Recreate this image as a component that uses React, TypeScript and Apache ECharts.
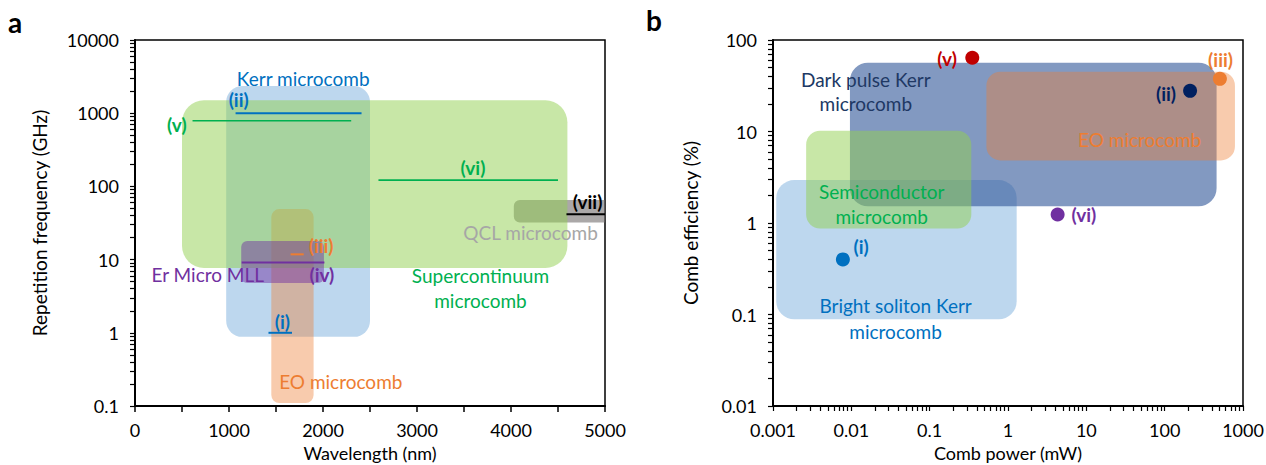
import React, { useEffect, useRef } from 'react';
import * as echarts from 'echarts';

const FONT = 'Lato, "Open Sans", sans-serif';

// ---------- Panel a data ----------
const wavelengthTicks = [0, 1000, 2000, 3000, 4000, 5000];
const repRateTicks = [0.1, 1, 10, 100, 1000, 10000];

// drawn in this order (back to front)
const aRegionNames = ['Kerr microcomb', 'EO microcomb', 'QCL microcomb', 'Supercontinuum microcomb', 'Er Micro MLL'];
const aRegionWavelength = [[970, 2500], [1450, 1900], [4030, 5000], [500, 4600], [1130, 2010]];
const aRegionRepRate = [[0.88, 2350], [0.11, 49], [32, 65], [7.7, 1500], [4.8, 18]];

const aLineNames = ['(i)', '(ii)', '(iii)', '(iv)', '(v)', '(vi)', '(vii)'];
const aLineWavelength = [[1420, 1670], [1070, 2410], [1655, 1795], [1135, 2015], [612, 2300], [2590, 4500], [4590, 5000]];
const aLineRepRate = [1.0, 1000, 11.8, 9.1, 790, 122, 41.6];

const aLabelTexts = ['Kerr microcomb', '(ii)', '(v)', '(vi)', '(vii)', 'QCL microcomb', '(iii)', 'Er Micro MLL', '(iv)', 'Supercontinuum', 'microcomb', '(i)', 'EO microcomb'];
const aLabelWavelength = [1789, 1103, 445, 3595, 4814, 4208, 1980, 774, 1988, 3675, 3675, 1567, 2189];
const aLabelRepRate = [3000, 1549, 711, 184, 61.8, 23.3, 15.4, 6.17, 6.17, 5.97, 2.72, 1.42, 0.215];

// ---------- Panel b data ----------
const powerTicks = [0.001, 0.01, 0.1, 1, 10, 100, 1000];
const efficiencyTicks = [0.01, 0.1, 1, 10, 100];

const bRegionNames = ['Bright soliton Kerr microcomb', 'Dark pulse Kerr microcomb', 'Semiconductor microcomb', 'EO microcomb'];
const bRegionPower = [[0.0011, 1.29], [0.0096, 460], [0.00265, 0.34], [0.53, 789]];
const bRegionEfficiency = [[0.0885, 2.95], [1.52, 56.5], [0.87, 10.2], [4.83, 45]];

const bPointNames = ['(i)', '(ii)', '(iii)', '(v)', '(vi)'];
const bPointPower = [0.0078, 211, 507, 0.35, 4.3];
const bPointEfficiency = [0.4, 27.8, 37.6, 64, 1.24];

const bLabelTexts = ['Dark pulse Kerr', 'microcomb', '(v)', '(iii)', '(ii)', 'EO microcomb', 'Semiconductor', 'microcomb', '(vi)', '(i)', 'Bright soliton Kerr', 'microcomb'];
const bLabelPower = [0.0153, 0.0153, 0.167, 517, 104, 47.9, 0.0244, 0.0244, 9.3, 0.0133, 0.0367, 0.0367];
const bLabelEfficiency = [36.6, 20.4, 63, 60.5, 26.2, 8.26, 2.22, 1.18, 1.24, 0.548, 0.1256, 0.0659];

// ---------- styles ----------
const BLUE = '#0070c0';
const GREEN = '#00b050';
const ORANGE = '#ed7d31';
const PURPLE = '#7030a0';
const GRAY = '#a6a6a6';
const NAVY = '#203864';

const aRegionFill = ['rgba(91,155,213,0.4)', 'rgba(237,125,49,0.4)', 'rgba(115,110,110,0.6)', 'rgba(146,208,80,0.5)', 'rgba(112,48,160,0.48)'];
const aRegionRadius: any[] = [16, 8, [6, 0, 0, 6], 22, 6];
const aLineColors = [BLUE, BLUE, ORANGE, PURPLE, GREEN, GREEN, '#000000'];
const aLineWidths = [2, 2, 2, 2, 1.6, 1.6, 2];
const aLabelColors = [BLUE, BLUE, GREEN, GREEN, '#000000', GRAY, ORANGE, PURPLE, PURPLE, GREEN, GREEN, BLUE, ORANGE];

const bRegionFill = ['rgba(91,155,213,0.4)', 'rgba(47,85,151,0.6)', 'rgba(146,208,80,0.5)', 'rgba(237,125,49,0.4)'];
const bRegionRadius = [18, 18, 14, 14];
const bPointColors = [BLUE, '#002060', ORANGE, '#c00000', PURPLE];
const bLabelColors = [NAVY, NAVY, '#c00000', ORANGE, '#002060', ORANGE, GREEN, GREEN, PURPLE, BLUE, BLUE, BLUE];

const isBold = (t: string) => t.startsWith('(');

function logMinorTicks(lo: number, hi: number): number[] {
  const out: number[] = [];
  for (let e = Math.round(Math.log10(lo)); e < Math.round(Math.log10(hi)); e++) {
    for (let m = 1; m <= 9; m++) out.push(Number((m * Math.pow(10, e)).toPrecision(6)));
  }
  out.push(hi);
  return out;
}

const fmtNum = (v: number) => String(Number(Number(v).toPrecision(6)));

export default function App() {
  const ref = useRef<HTMLDivElement>(null);
  useEffect(() => {
    document.body.style.margin = '0';
    const chart = echarts.init(ref.current!, null, { renderer: 'svg' });

    const axisLine = { show: true, onZero: false, lineStyle: { color: '#000', width: 2 } };
    const labelStyle = { color: '#000', fontSize: 18, fontFamily: FONT };
    const nameStyle = { color: '#000', fontSize: 19, fontFamily: FONT };
    const xNameStyle = { color: '#000', fontSize: 18, fontFamily: FONT };

    const rectSeries = (names: string[], xs: number[][], ys: number[][], fills: string[], radii: any[], gi: number) => ({
      type: 'custom',
      xAxisIndex: gi,
      yAxisIndex: gi,
      z: 1,
      silent: true,
      clip: true,
      encode: { x: [0, 1], y: [2, 3] },
      data: names.map((n, i) => ({ name: n, value: [xs[i][0], xs[i][1], ys[i][0], ys[i][1]] })),
      renderItem: (params: any, api: any) => {
        const tl = api.coord([api.value(0), api.value(3)]);
        const br = api.coord([api.value(1), api.value(2)]);
        return {
          type: 'rect',
          shape: { x: tl[0], y: tl[1], width: br[0] - tl[0], height: br[1] - tl[1], r: radii[params.dataIndex] },
          style: { fill: fills[params.dataIndex] },
        };
      },
    });

    const textSeries = (texts: string[], xs: number[], ys: number[], colors: string[], gi: number) => ({
      type: 'custom',
      xAxisIndex: gi,
      yAxisIndex: gi,
      z: 6,
      silent: true,
      clip: false,
      data: texts.map((t, i) => [xs[i], ys[i]]),
      renderItem: (params: any, api: any) => {
        const p = api.coord([api.value(0), api.value(1)]);
        const t = texts[params.dataIndex];
        return {
          type: 'text',
          x: p[0],
          y: p[1],
          style: {
            text: t,
            fill: colors[params.dataIndex],
            fontSize: 19,
            fontFamily: FONT,
            fontWeight: isBold(t) ? 'bold' : 'normal',
            align: 'center',
            verticalAlign: 'middle',
          },
        };
      },
    });

    const lineSeries = aLineNames.map((n, i) => ({
      type: 'line',
      name: n,
      xAxisIndex: 0,
      yAxisIndex: 0,
      z: 3,
      silent: true,
      showSymbol: false,
      symbol: 'none',
      lineStyle: { color: aLineColors[i], width: aLineWidths[i] },
      data: [[aLineWavelength[i][0], aLineRepRate[i]], [aLineWavelength[i][1], aLineRepRate[i]]],
    }));

    const gridBase = { top: 40, width: 470, height: 366, show: true, borderColor: '#000', borderWidth: 1.5, containLabel: false, outerBoundsMode: 'none' };

    const option: any = {
      animation: false,
      textStyle: { fontFamily: FONT },
      grid: [
        { ...gridBase, left: 135 },
        { ...gridBase, left: 773 },
      ],
      xAxis: [
        {
          gridIndex: 0,
          type: 'value',
          min: 0,
          max: 5000,
          interval: 500,
          axisLine,
          axisTick: { show: true, length: 6, lineStyle: { color: '#000', width: 1.5 } },
          axisLabel: {
            ...labelStyle,
            margin: 15,
            formatter: (v: number) => (wavelengthTicks.includes(v) ? String(v) : ''),
          },
          splitLine: { show: false },
          name: 'Wavelength (nm)',
          nameLocation: 'middle',
          nameGap: 35,
          nameTextStyle: xNameStyle,
        },
        {
          gridIndex: 1,
          type: 'log',
          logBase: 10,
          min: 0.001,
          max: 1000,
          axisLine,
          axisTick: { show: true, length: 5, customValues: logMinorTicks(0.001, 1000), lineStyle: { color: '#000', width: 1.2 } },
          axisLabel: { ...labelStyle, margin: 15, customValues: powerTicks, formatter: fmtNum },
          splitLine: { show: false },
          minorTick: { show: false },
          name: 'Comb power (mW)',
          nameLocation: 'middle',
          nameGap: 35,
          nameTextStyle: xNameStyle,
        },
      ],
      yAxis: [
        {
          gridIndex: 0,
          type: 'log',
          logBase: 10,
          min: 0.1,
          max: 10000,
          axisLine,
          axisTick: { show: true, length: 5, customValues: logMinorTicks(0.1, 10000), lineStyle: { color: '#000', width: 1.2 } },
          axisLabel: { ...labelStyle, margin: 16, customValues: repRateTicks, formatter: fmtNum },
          splitLine: { show: false },
          name: 'Repetition frequency (GHz)',
          nameLocation: 'middle',
          nameGap: 86,
          nameTextStyle: nameStyle,
        },
        {
          gridIndex: 1,
          type: 'log',
          logBase: 10,
          min: 0.01,
          max: 100,
          axisLine,
          axisTick: { show: true, length: 5, customValues: logMinorTicks(0.01, 100), lineStyle: { color: '#000', width: 1.2 } },
          axisLabel: { ...labelStyle, margin: 16, customValues: efficiencyTicks, formatter: fmtNum },
          splitLine: { show: false },
          name: 'Comb efficiency (%)',
          nameLocation: 'middle',
          nameGap: 73,
          nameTextStyle: nameStyle,
        },
      ],
      graphic: [
        { type: 'text', left: 8, top: 8, style: { text: 'a', fontSize: 28, fontWeight: 'bold', fontFamily: FONT, fill: '#000' } },
        { type: 'text', left: 646, top: 6, style: { text: 'b', fontSize: 28, fontWeight: 'bold', fontFamily: FONT, fill: '#000' } },
      ],
      series: [
        rectSeries(aRegionNames, aRegionWavelength, aRegionRepRate, aRegionFill, aRegionRadius, 0),
        ...lineSeries,
        textSeries(aLabelTexts, aLabelWavelength, aLabelRepRate, aLabelColors, 0),
        rectSeries(bRegionNames, bRegionPower, bRegionEfficiency, bRegionFill, bRegionRadius, 1),
        {
          type: 'scatter',
          xAxisIndex: 1,
          yAxisIndex: 1,
          z: 4,
          silent: true,
          symbolSize: 14,
          itemStyle: { color: (p: any) => bPointColors[p.dataIndex], opacity: 1 },
          data: bPointNames.map((n, i) => ({ name: n, value: [bPointPower[i], bPointEfficiency[i]] })),
        },
        textSeries(bLabelTexts, bLabelPower, bLabelEfficiency, bLabelColors, 1),
      ],
    };

    chart.setOption(option);
    return () => chart.dispose();
  }, []);
  return <div ref={ref} style={{ width: 1266, height: 465 }} />;
}
